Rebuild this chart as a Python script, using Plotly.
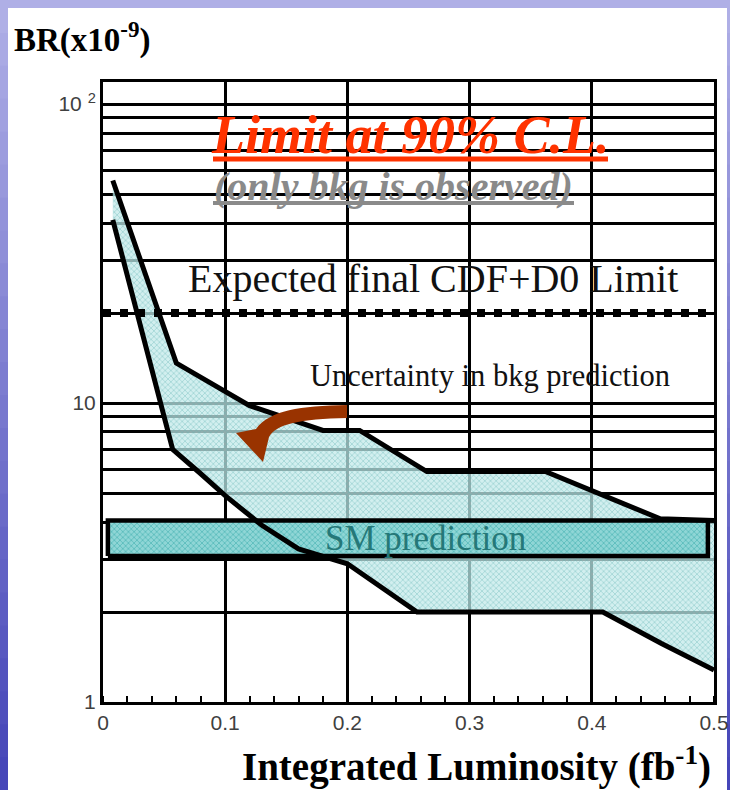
import plotly.graph_objects as go
import numpy as np

# ---------------- data ----------------
upper_x = [0.008, 0.06, 0.12, 0.18, 0.21, 0.265, 0.362, 0.456, 0.5]
upper_y = [55.5, 13.6, 9.8, 8.1, 8.1, 5.9, 5.9, 4.1, 4.05]

lower_x = [0.008, 0.057, 0.08, 0.10, 0.13, 0.16, 0.20, 0.257, 0.409, 0.457, 0.5]
lower_y = [41.0, 7.0, 5.8, 4.9, 3.9, 3.25, 2.9, 2.0, 2.0, 1.57, 1.28]

sm_x = [0.004, 0.495]
sm_y = [3.08, 4.05]

expected_limit = 20.0
expected_x = [0.0, 0.5]

x_ticks = [0.0, 0.1, 0.2, 0.3, 0.4, 0.5]
x_ticklabels = ["0", "0.1", "0.2", "0.3", "0.4", "0.5"]
y_grid = [1, 2, 3, 4, 5, 6, 7, 8, 9, 10, 20, 30, 40, 50, 60, 70, 80, 90, 100]
y_labels = {1: "1", 10: "10", 100: "10 <sup>2</sup>"}

# ---------------- layout geometry (pixels) ----------------
W, H = 730, 790
L, R, T, B = 103, 714, 82, 702


def px(xp):
    return (xp - L) / (R - L)


def py(yp):
    return (B - yp) / (B - T)


fig = go.Figure()

# uncertainty band (closed polygon)
band_x = upper_x + lower_x[::-1]
band_y = upper_y + lower_y[::-1]
fig.add_trace(go.Scatter(
    x=band_x, y=band_y, mode="lines", fill="toself",
    line=dict(width=0, color="rgba(0,0,0,0)"),
    fillcolor="rgba(190,231,231,0.8)",
    fillpattern=dict(shape="x", size=4, solidity=0.4,
                     fgcolor="rgba(95,178,178,0.8)",
                     bgcolor="rgba(195,234,234,0.74)"),
    hoverinfo="skip", showlegend=False))

# SM prediction box
fig.add_trace(go.Scatter(
    x=[sm_x[0], sm_x[1], sm_x[1], sm_x[0], sm_x[0]],
    y=[sm_y[0], sm_y[0], sm_y[1], sm_y[1], sm_y[0]],
    mode="lines", fill="toself",
    line=dict(width=4.5, color="black"),
    fillcolor="#6cc6c6",
    fillpattern=dict(shape="x", size=4, solidity=0.4,
                     fgcolor="#2aa3a3", bgcolor="#8fd6d6"),
    hoverinfo="skip", showlegend=False))

# curves
fig.add_trace(go.Scatter(x=upper_x, y=upper_y, mode="lines",
                         line=dict(width=5, color="black"),
                         hoverinfo="skip", showlegend=False))
fig.add_trace(go.Scatter(x=lower_x, y=lower_y, mode="lines",
                         line=dict(width=5, color="black"),
                         hoverinfo="skip", showlegend=False))

# expected final limit (thick dashed)
fig.add_trace(go.Scatter(x=expected_x, y=[expected_limit, expected_limit],
                         mode="lines",
                         line=dict(width=8, color="black", dash="8px,9px"),
                         hoverinfo="skip", showlegend=False))

# ---------------- background ----------------
shapes = []
n_bands = 24
for i in range(n_bands):
    t = i / (n_bands - 1)
    r = int(175 - 105 * t)
    g = int(175 - 105 * t)
    b = int(230 - 45 * t)
    shapes.append(dict(type="rect", xref="paper", yref="paper",
                       x0=px(0), x1=px(W),
                       y0=py(i * H / n_bands), y1=py((i + 1) * H / n_bands + 1),
                       fillcolor=f"rgb({r},{g},{b})", line=dict(width=0),
                       layer="below"))
shapes.append(dict(type="rect", xref="paper", yref="paper",
                   x0=px(8), x1=px(727), y0=py(8), y1=py(H + 5),
                   fillcolor="white", line=dict(width=0), layer="below"))

# underlines
shapes.append(dict(type="line", xref="paper", yref="paper",
                   x0=px(213), x1=px(608), y0=py(159), y1=py(159),
                   line=dict(color="#ff3300", width=5)))
shapes.append(dict(type="line", xref="paper", yref="paper",
                   x0=px(213), x1=px(574), y0=py(203), y1=py(203),
                   line=dict(color="#8a8a8a", width=4)))

# curved brown arrow
P = [(347, 405), (300, 406), (270, 410), (256, 429), (236, 433), (263, 462),
     (269, 437), (276, 424), (300, 419), (347, 418)]
vals = []
for (a, b) in P:
    vals += [px(a), py(b)]
path = ("M {},{} C {},{} {},{} {},{} L {},{} L {},{} L {},{} C {},{} {},{} {},{} Z"
        .format(*vals))
shapes.append(dict(type="path", xref="paper", yref="paper", path=path,
                   fillcolor="#993300", line=dict(width=0)))

# ---------------- annotations ----------------
serif = "Liberation Serif"
ann = []
ann.append(dict(text="<b>BR(x10<sup>-9</sup>)</b>", x=px(12), y=py(38),
                xref="paper", yref="paper", xanchor="left", yanchor="middle",
                showarrow=False, font=dict(family=serif, size=33, color="black")))
ann.append(dict(text="<b>Integrated Luminosity (fb<sup>-1</sup>)</b>",
                x=px(713), y=py(764), xref="paper", yref="paper",
                xanchor="right", yanchor="middle", showarrow=False,
                font=dict(family=serif, size=39, color="black")))
ann.append(dict(text="<b><i>Limit at 90% C.L.</i></b>", x=px(410), y=py(135),
                xref="paper", yref="paper", xanchor="center", yanchor="middle",
                showarrow=False, font=dict(family=serif, size=54, color="#ff3300")))
ann.append(dict(text="<b><i>(only bkg is observed)</i></b>", x=px(393), y=py(186),
                xref="paper", yref="paper", xanchor="center", yanchor="middle",
                showarrow=False, font=dict(family=serif, size=40, color="#8a8a8a")))
ann.append(dict(text="Expected final CDF+D0 Limit", x=px(433), y=py(278),
                xref="paper", yref="paper", xanchor="center", yanchor="middle",
                showarrow=False, font=dict(family=serif, size=40, color="#111111")))
ann.append(dict(text="Uncertainty in bkg prediction", x=px(490), y=py(376),
                xref="paper", yref="paper", xanchor="center", yanchor="middle",
                showarrow=False, font=dict(family=serif, size=30.5, color="#111111")))
ann.append(dict(text="SM prediction", x=px(425), y=py(538),
                xref="paper", yref="paper", xanchor="center", yanchor="middle",
                showarrow=False, font=dict(family=serif, size=35, color="#257878")))

fig.update_layout(
    width=W, height=H, autosize=False,
    margin=dict(l=L, r=W - R, t=T, b=H - B, pad=0, autoexpand=False),
    paper_bgcolor="#7f7fcc", plot_bgcolor="white",
    shapes=shapes, annotations=ann, showlegend=False,
    xaxis=dict(range=[0, 0.5], tickvals=x_ticks, ticktext=x_ticklabels,
               showgrid=True, gridcolor="black", gridwidth=2.5,
               showline=True, linecolor="black", linewidth=3, mirror=True,
               ticks="", zeroline=False, ticklabelstandoff=0, automargin=False,
               tickfont=dict(family="Liberation Sans", size=21, color="#404040"),
               minor=dict(dtick=0.02, tick0=0, ticks="inside", ticklen=6,
                          tickwidth=2, tickcolor="black", showgrid=False)),
    yaxis=dict(type="log", range=[0, np.log10(118.5)], tickvals=y_grid,
               ticktext=[y_labels.get(v, "") for v in y_grid],
               showgrid=True, gridcolor="black", gridwidth=2.5,
               showline=True, linecolor="black", linewidth=3, mirror=True,
               ticks="", zeroline=False, automargin=False,
               tickfont=dict(family="Liberation Sans", size=21, color="#404040")),
)

fig.write_html("out.html",
               config={"displayModeBar": False, "responsive": False},
               post_script="document.body.style.margin='0';"
                           "document.body.style.overflow='hidden';")
